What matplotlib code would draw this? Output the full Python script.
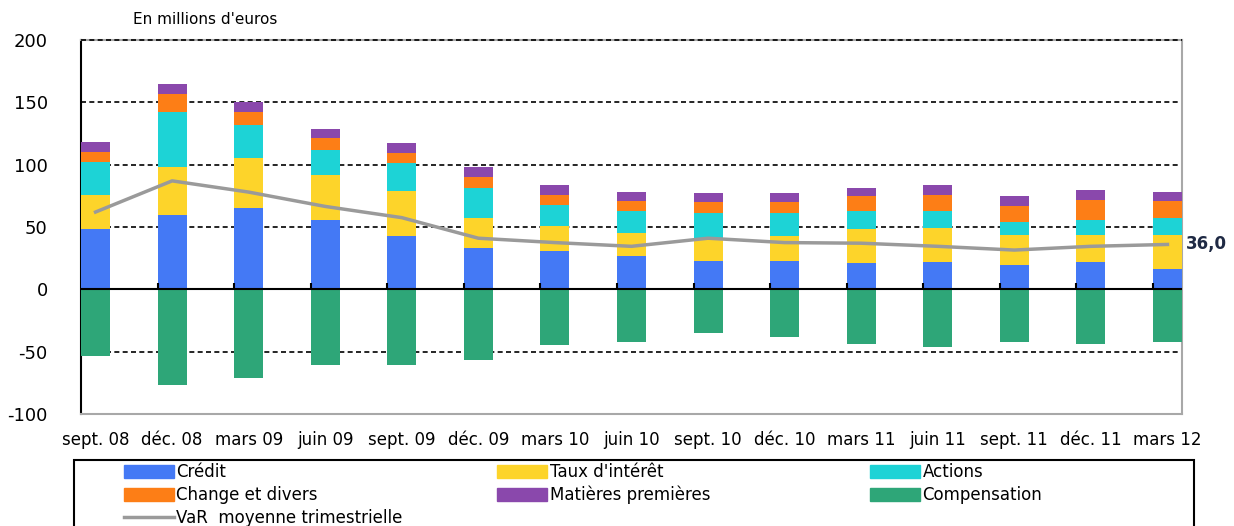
import numpy as np
import matplotlib
matplotlib.use("Agg")
import matplotlib.pyplot as plt
from matplotlib.patches import Patch, Rectangle
from matplotlib.lines import Line2D

# Data (millions d'euros)
periods = ["sept. 08", "déc. 08", "mars 09", "juin 09", "sept. 09", "déc. 09",
           "mars 10", "juin 10", "sept. 10", "déc. 10", "mars 11", "juin 11",
           "sept. 11", "déc. 11", "mars 12"]
credit = [48, 59.5, 65, 55.5, 42.5, 33, 30.5, 26.5, 22.5, 22.5, 21, 22, 19.5, 22, 16.5]
taux = [27.5, 39, 40.5, 36, 36, 24, 20, 19, 17.5, 20, 27, 27.5, 24, 21.5, 27]
actions = [27, 43.5, 26, 20, 23, 24.5, 17.5, 17, 21.5, 19, 14.5, 13, 10.5, 12, 13.5]
change = [7.5, 15, 11, 9.5, 8, 8.5, 7.5, 8.5, 8.5, 8.5, 12, 13, 13, 16, 13.5]
matieres = [8, 7.5, 7.5, 7.5, 8, 8, 8, 7, 7, 7, 6.5, 8, 8, 8, 7.5]
compensation = [-53.5, -77, -71, -61, -61, -57, -45, -42.5, -35, -38, -44, -46.5, -42.5, -44, -42.5]
var_moyenne = [62, 87, 78, 66.5, 57.5, 41, 37.5, 34.5, 41, 37.5, 37, 34.5, 31.5, 34.5, 36.0]

colors = {
    "Crédit": "#4479F5",
    "Taux d'intérêt": "#FDD42A",
    "Actions": "#1DD3D6",
    "Change et divers": "#FD7E16",
    "Matières premières": "#8A48AC",
    "Compensation": "#2EA678",
}
line_color = "#9A9A9A"

fig = plt.figure(figsize=(12.34, 5.26), dpi=100)
ax = fig.add_axes([81 / 1234, 1 - 414 / 526, 1101 / 1234, 374 / 526])

x = np.arange(len(periods))
w = 0.38

# Stacked positive bars
bottom = np.zeros(len(periods))
for name, vals in [("Crédit", credit), ("Taux d'intérêt", taux), ("Actions", actions),
                   ("Change et divers", change), ("Matières premières", matieres)]:
    ax.bar(x, vals, w, bottom=bottom, color=colors[name], zorder=3)
    bottom += np.array(vals)
ax.bar(x, compensation, w, color=colors["Compensation"], zorder=3)

# VaR line
ax.plot(x, var_moyenne, color=line_color, lw=2.5, zorder=4)
ax.annotate(f"{var_moyenne[-1]:.1f}".replace(".", ","), (x[-1], var_moyenne[-1]),
            xytext=(13, 0), textcoords="offset points", ha="left", va="center",
            fontsize=12, fontweight="bold", color="#1F2A44")

ax.set_xlim(-w / 2, len(periods) - 1 + w / 2)
ax.set_ylim(-100, 200)
ax.set_yticks([-100, -50, 0, 50, 100, 150, 200])
ax.set_yticklabels(["-100", "-50", "0", "50", "100", "150", "200"])
ax.set_xticks(x)
ax.set_xticklabels(periods)
ax.tick_params(axis="x", length=0, pad=12, labelsize=12)
ax.tick_params(axis="y", length=0, pad=24, labelsize=13)

for side in ["bottom", "right", "top"]:
    ax.spines[side].set_color("#A8A8A8")
    ax.spines[side].set_linewidth(1.5)
ax.spines["left"].set_color("black")
ax.spines["left"].set_linewidth(1.5)

# Grid lines (dashed, the top one drawn over the grey frame)
for g in [-50, 50, 100, 150]:
    ax.axhline(g, color="black", lw=1.2, ls=(0, (3, 2)), zorder=1)
ax.axhline(200, color="black", lw=1.2, ls=(0, (3, 2)), zorder=6, clip_on=False)
ax.axhline(0, color="black", lw=1.5, zorder=5)
# small ticks on the zero line
ax.vlines(x[1:] - w / 2, 0, 5, color="black", lw=1.5, zorder=5)

fig.text(133 / 1234, 1 - 20 / 526, "En millions d'euros", fontsize=11, va="center")

# Legend box
fig.patches.append(Rectangle((74 / 1234, -0.1), 1120 / 1234, 0.1 + (1 - 460 / 526),
                             transform=fig.transFigure, fill=False,
                             edgecolor="black", lw=1.5))

columns = [
    [Patch(color=colors["Crédit"], label="Crédit"),
     Patch(color=colors["Change et divers"], label="Change et divers"),
     Line2D([], [], color=line_color, lw=2.5, label="VaR  moyenne trimestrielle")],
    [Patch(color=colors["Taux d'intérêt"], label="Taux d'intérêt"),
     Patch(color=colors["Matières premières"], label="Matières premières")],
    [Patch(color=colors["Actions"], label="Actions"),
     Patch(color=colors["Compensation"], label="Compensation")],
]
for hx, handles in zip([124, 497, 870], columns):
    leg = fig.legend(handles=handles, loc="upper left",
                     bbox_to_anchor=(hx / 1234, 1 - 463 / 526),
                     frameon=False, fontsize=12, borderpad=0, borderaxespad=0,
                     handlelength=3.0, handleheight=0.8, handletextpad=0.15,
                     labelspacing=0.3)

fig.savefig("out.png", dpi=100)
